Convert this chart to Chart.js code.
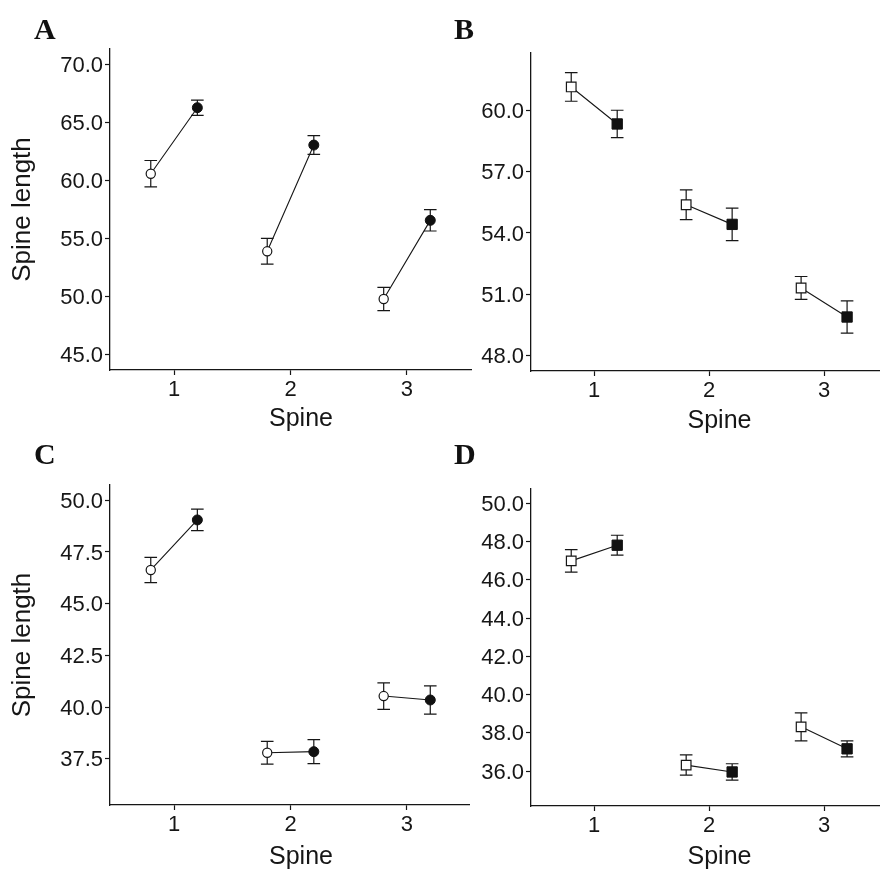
<!DOCTYPE html>
<html>
<head>
<meta charset="utf-8">
<script src="https://cdn.jsdelivr.net/npm/chart.js@4.4.1/dist/chart.umd.min.js"></script>
<style>
  html, body { margin: 0; padding: 0; background: #fff; }
  body { width: 880px; height: 872px; position: relative; overflow: hidden; }
  .panel { position: absolute; overflow: hidden; }
  .panel canvas { position: absolute; left: 0; top: 0; }
  .tag { position: absolute; font-family: 'Liberation Serif', 'Times New Roman', serif; font-weight: bold; font-size: 30px; line-height: 30px; color: #111; }
</style>
</head>
<body>
<div class="panel" style="left:0;top:0;width:472px;height:436px"><canvas id="cA"></canvas></div>
<div class="panel" style="left:440px;top:0;width:440px;height:436px"><canvas id="cB"></canvas></div>
<div class="panel" style="left:0;top:436px;width:470px;height:436px"><canvas id="cC"></canvas></div>
<div class="panel" style="left:440px;top:436px;width:440px;height:436px"><canvas id="cD"></canvas></div>
<div class="tag" style="left:34px;top:14px">A</div>
<div class="tag" style="left:454px;top:14px">B</div>
<div class="tag" style="left:34px;top:439px">C</div>
<div class="tag" style="left:454px;top:439px">D</div>
<script>
// x categories (spine number); the two groups are dodged left / right of each
const spines = [1, 2, 3];
const dodge = 0.2;

// panel A (circles)
const openA = [60.57, 53.88, 49.77];
const openSeA = [1.14, 1.11, 1.0];
const filledA = [66.26, 63.04, 56.55];
const filledSeA = [0.66, 0.81, 0.92];
const yTicksA = [45, 50, 55, 60, 65, 70];

// panel B (squares)
const openB = [61.14, 55.38, 51.31];
const openSeB = [0.70, 0.73, 0.56];
const filledB = [59.33, 54.42, 49.89];
const filledSeB = [0.67, 0.79, 0.79];
const yTicksB = [48, 51, 54, 57, 60];

// panel C (circles)
const openC = [46.63, 37.79, 40.53];
const openSeC = [0.61, 0.55, 0.64];
const filledC = [49.05, 37.84, 40.34];
const filledSeC = [0.52, 0.58, 0.68];
const yTicksC = [37.5, 40, 42.5, 45, 47.5, 50];

// panel D (squares)
const openD = [46.99, 36.31, 38.31];
const openSeD = [0.59, 0.53, 0.73];
const filledD = [47.81, 35.95, 37.16];
const filledSeD = [0.52, 0.43, 0.42];
const yTicksD = [36, 38, 40, 42, 44, 46, 48, 50];

const ink = '#161616';
const tickFont = { family: "'Liberation Sans', Arial, sans-serif", size: 22 };
const titleFont = { family: "'Liberation Sans', Arial, sans-serif", size: 25 };
const yTitleFont = { family: "'Liberation Sans', Arial, sans-serif", size: 26 };

// error bars drawn under the points
const errorBars = {
  id: 'errorBars',
  beforeDatasetsDraw(chart) {
    const ctx = chart.ctx, ys = chart.scales.y;
    chart.data.datasets.forEach((ds, i) => {
      if (!ds.se) return;
      const meta = chart.getDatasetMeta(i);
      meta.data.forEach((pt, j) => {
        const v = ds.data[j].y, e = ds.se[j];
        const top = ys.getPixelForValue(v + e), bot = ys.getPixelForValue(v - e);
        const cap = 6.3;
        ctx.save();
        ctx.strokeStyle = ink;
        ctx.lineWidth = 1.2;
        ctx.beginPath();
        ctx.moveTo(pt.x, top); ctx.lineTo(pt.x, bot);
        ctx.moveTo(pt.x - cap, top); ctx.lineTo(pt.x + cap, top);
        ctx.moveTo(pt.x - cap, bot); ctx.lineTo(pt.x + cap, bot);
        ctx.stroke();
        ctx.restore();
      });
    });
  }
};

function makePanel(p) {
  const canvas = document.getElementById(p.id);
  canvas.width = p.box.w;
  canvas.height = p.box.h;
  canvas.style.width = p.box.w + 'px';
  canvas.style.height = p.box.h + 'px';

  const lhX = titleFont.size * 1.2, lhY = yTitleFont.size * 1.2;
  const padLeft = p.yTitle ? p.yTitleX - lhY / 2 - p.box.left : 0;
  const yWidth = p.area.left - p.box.left - padLeft;
  const xHeight = p.xTitleY + lhX / 2 - p.area.bottom;
  const padTop = p.area.top - p.box.top;
  const padBottom = p.box.top + p.box.h - p.area.bottom - xHeight;
  const padRight = p.box.left + p.box.w - p.area.right;

  const lineData = [];
  spines.forEach((s, i) => {
    lineData.push({ x: s - dodge, y: p.open[i] });
    lineData.push({ x: s + dodge, y: p.filled[i] });
    lineData.push({ x: s + 0.5, y: null });
  });
  const square = p.marker === 'rect';

  new Chart(canvas, {
    type: 'scatter',
    data: {
      datasets: [
        {
          data: lineData, showLine: true, spanGaps: false,
          borderColor: ink, borderWidth: 1.1, pointRadius: 0, order: 3
        },
        {
          data: spines.map((s, i) => ({ x: s - dodge, y: p.open[i] })), se: p.openSe,
          pointStyle: p.marker, pointRadius: square ? 6.8 : 4.6,
          backgroundColor: '#fff', borderColor: ink, pointBorderWidth: 1.2, order: 1
        },
        {
          data: spines.map((s, i) => ({ x: s + dodge, y: p.filled[i] })), se: p.filledSe,
          pointStyle: p.marker, pointRadius: square ? 7.3 : 5,
          backgroundColor: '#111', borderColor: '#111', pointBorderWidth: 1, order: 1
        }
      ]
    },
    options: {
      responsive: false,
      animation: false,
      events: [],
      layout: {
        autoPadding: false,
        padding: { left: padLeft, top: padTop, right: padRight, bottom: padBottom }
      },
      plugins: { legend: { display: false }, tooltip: { enabled: false } },
      scales: {
        x: {
          type: 'linear', min: 0.45, max: 3.73,
          afterBuildTicks: s => { s.ticks = spines.map(v => ({ value: v })); },
          afterFit: s => { s.height = xHeight; s.paddingLeft = 0; s.paddingRight = 0; },
          ticks: { font: tickFont, color: ink, padding: 2, callback: v => String(v) },
          grid: { drawOnChartArea: false, tickLength: 5, tickColor: ink, tickWidth: 1.2 },
          border: { color: ink, width: 1.3 },
          title: { display: true, text: 'Spine', font: titleFont, color: ink, padding: 0 }
        },
        y: {
          min: p.yMin, max: p.yMax,
          afterBuildTicks: s => { s.ticks = p.yTicks.map(v => ({ value: v })); },
          afterFit: s => { s.width = yWidth; s.paddingTop = 0; s.paddingBottom = 0; },
          ticks: { font: tickFont, color: ink, padding: 2, labelOffset: 1.5, callback: v => v.toFixed(1) },
          grid: { drawOnChartArea: false, tickLength: 5, tickColor: ink, tickWidth: 1.2 },
          border: { color: ink, width: 1.3 },
          title: { display: !!p.yTitle, text: p.yTitle || '', font: yTitleFont, color: ink, padding: 0 }
        }
      }
    },
    plugins: [errorBars]
  });
}

// page geometry of each panel: canvas box, plot area, title centres
makePanel({ id: 'cA', open: openA, openSe: openSeA, filled: filledA, filledSe: filledSeA,
  yTicks: yTicksA, yMin: 43.65, yMax: 71.32, marker: 'circle', yTitle: 'Spine length',
  box: { left: 0, top: 0, w: 492, h: 460 }, area: { left: 110, right: 492, top: 49, bottom: 370 },
  yTitleX: 23, xTitleY: 419.5 });
makePanel({ id: 'cB', open: openB, openSe: openSeB, filled: filledB, filledSe: filledSeB,
  yTicks: yTicksB, yMin: 47.25, yMax: 62.80, marker: 'rect',
  box: { left: 440, top: 0, w: 468, h: 460 }, area: { left: 531, right: 908, top: 53, bottom: 371 },
  xTitleY: 421 });
makePanel({ id: 'cC', open: openC, openSe: openSeC, filled: filledC, filledSe: filledSeC,
  yTicks: yTicksC, yMin: 35.26, yMax: 50.74, marker: 'circle', yTitle: 'Spine length',
  box: { left: 0, top: 436, w: 492, h: 460 }, area: { left: 110, right: 492, top: 485, bottom: 805 },
  yTitleX: 23, xTitleY: 857.3 });
makePanel({ id: 'cD', open: openD, openSe: openSeD, filled: filledD, filledSe: filledSeD,
  yTicks: yTicksD, yMin: 34.17, yMax: 50.75, marker: 'rect',
  box: { left: 440, top: 436, w: 468, h: 460 }, area: { left: 531, right: 908, top: 489, bottom: 806 },
  xTitleY: 857.5 });
</script>
</body>
</html>
